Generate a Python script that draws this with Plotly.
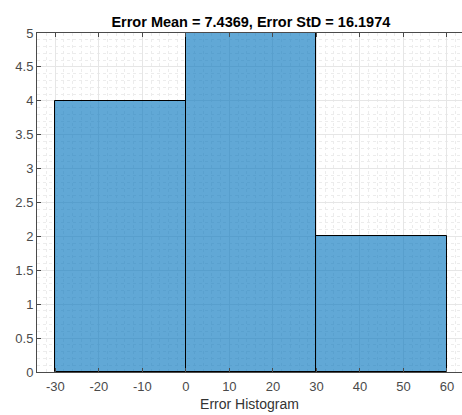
import plotly.graph_objects as go

# Histogram bins and counts
bin_edges = [-30, 0, 30, 60]
counts = [4, 5, 2]
x_ticks = [-30, -20, -10, 0, 10, 20, 30, 40, 50, 60]
y_ticks = [0, 0.5, 1, 1.5, 2, 2.5, 3, 3.5, 4, 4.5, 5]
title_text = "Error Mean = 7.4369, Error StD = 16.1974"
x_label = "Error Histogram"

centers = [(a + b) / 2 for a, b in zip(bin_edges[:-1], bin_edges[1:])]
widths = [b - a for a, b in zip(bin_edges[:-1], bin_edges[1:])]

fig = go.Figure()
fig.add_trace(go.Bar(
    x=centers, y=counts, width=widths,
    marker=dict(color="rgba(0,114,189,0.62)", line=dict(color="black", width=1)),
    showlegend=False,
))

axis_col = "#4a4a4a"
font_fam = "Liberation Sans, Arial, sans-serif"

fig.update_layout(
    width=462, height=415,
    margin=dict(l=37, r=0, t=33, b=43),
    paper_bgcolor="white", plot_bgcolor="white",
    bargap=0,
    font=dict(family=font_fam, size=13, color=axis_col),
    title=dict(text="<b>" + title_text + "</b>", x=0.543, xanchor="center",
               y=0.947, yanchor="middle",
               font=dict(family=font_fam, size=14.5, color="black")),
    xaxis=dict(
        range=[-34.2, 63.45], tickvals=x_ticks, ticktext=[str(v) for v in x_ticks],
        ticks="inside", ticklen=4, tickcolor=axis_col, ticklabelstandoff=2,
        showline=True, linecolor=axis_col, linewidth=1, mirror="ticks",
        showgrid=True, gridcolor="#e6e6e6", gridwidth=1,
        minor=dict(dtick=2, tick0=0, showgrid=True, gridcolor="#ececec", griddash="dot"),
        zeroline=False,
        title=dict(text=x_label, standoff=6, font=dict(size=14, color="#333333")),
        tickfont=dict(size=13, color=axis_col),
    ),
    yaxis=dict(
        range=[0, 5], tickvals=y_ticks, ticktext=[f"{v:g}" for v in y_ticks],
        ticks="inside", ticklen=4, tickcolor=axis_col,
        showline=True, linecolor=axis_col, linewidth=1,
        showgrid=True, gridcolor="#e6e6e6", gridwidth=1,
        minor=dict(dtick=0.1, tick0=0, showgrid=True, gridcolor="#ececec", griddash="dot"),
        zeroline=False,
        tickfont=dict(size=13, color=axis_col),
    ),
)

fig.write_html("out.html")
